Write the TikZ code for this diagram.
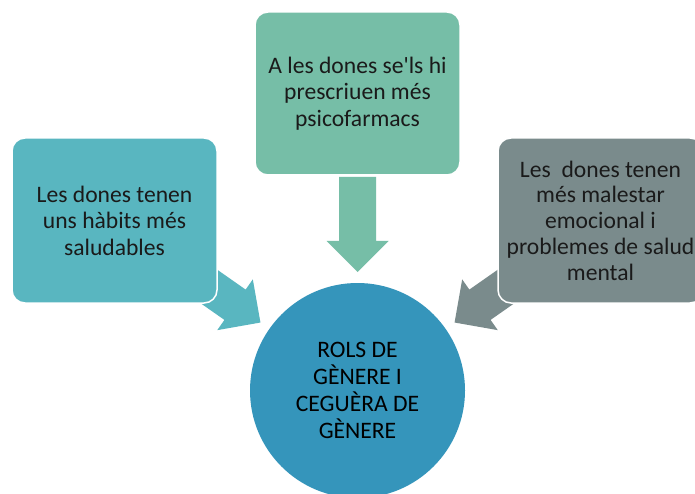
\documentclass[tikz,border=0pt]{standalone}
\usepackage{fontspec}
\setmainfont{Carlito}
\usetikzlibrary{calc}

\definecolor{topgreen}{HTML}{76BEA7}
\definecolor{leftteal}{HTML}{59B6C0}
\definecolor{rightgrey}{HTML}{7A8B8C}
\definecolor{hubblue}{HTML}{3595BB}
\definecolor{inktext}{HTML}{1A1A1A}

\tikzset{
    causebox/.style={rectangle, rounded corners=13pt, draw=white, line width=1.5pt,
        minimum width=205pt, minimum height=165pt, inner sep=0pt, align=center,
        text=inktext, font=\fontsize{23.6}{26.5}\selectfont},
    hubcircle/.style={circle, fill=hubblue, minimum size=215pt, inner sep=0pt,
        align=center, text=black, font=\fontsize{23.6}{26.8}\selectfont},
}

% block arrow: tip placed near the hub at angle #2, pointing to its centre
\newcommand{\blockarrow}[3]{%
    \coordinate (tip#2) at ($(#1)+(#2:118.5)$);
    \fill[#3, shift={(tip#2)}, rotate=#2+180]
        (0,0) -- (-31,31) -- (-31,18.5) -- (-95,18.5)
        -- (-95,-18.5) -- (-31,-18.5) -- (-31,-31) -- cycle;
}

\begin{document}
\begin{tikzpicture}[x=1pt, y=1pt]
    \clip (0,0) rectangle (695,493);
    \fill[white] (0,0) rectangle (695,493);

    % central circle
    \node[hubcircle] (hub) at (357.5,102.5) {ROLS DE\\GÈNERE I\\CEGUÈRA DE\\GÈNERE};

    % arrows towards the circle (drawn first, the boxes cover their tails)
    \blockarrow{hub}{90}{topgreen}
    \blockarrow{hub}{145}{leftteal}
    \blockarrow{hub}{35}{rightgrey}

    % the three boxes
    \node[causebox, fill=topgreen, minimum height=163pt] (psico) at (357.5,399.5)
        {A les dones se\textquotesingle ls hi\\prescriuen més\\psicofarmacs};
    \node[causebox, fill=leftteal] (habits) at (114.5,272.5)
        {Les dones tenen\\uns hàbits més\\saludables};
    \node[causebox, fill=rightgrey, font=\fontsize{23.6}{25.7}\selectfont] (malestar) at (600.5,272.5)
        {Les~ dones tenen\\més malestar\\emocional i\\problemes de salud\\mental};
\end{tikzpicture}
\end{document}
